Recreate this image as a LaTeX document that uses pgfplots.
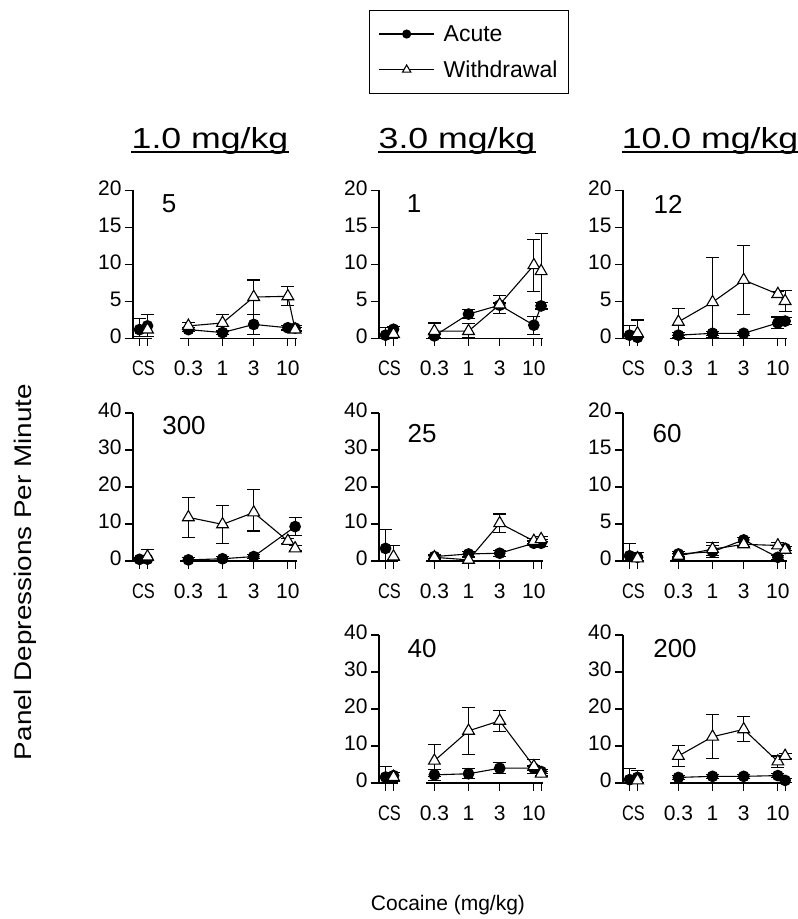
\documentclass[border=0pt]{standalone}
\usepackage{fontspec}
\setmainfont{Liberation Sans}
\usepackage{graphicx}
\usepackage{pgfplots}
\pgfplotsset{compat=1.18}
\newcommand{\tickfont}{\fontsize{21pt}{25pt}\selectfont}
\newcommand{\numfont}{\fontsize{26pt}{30pt}\selectfont}
\newcommand{\titlefont}{\fontsize{29pt}{34pt}\selectfont}
% x is log10(dose)+2 : 0.3 -> 1.477, 1 -> 2, 3 -> 2.477, 10 -> 3, 10 (second) -> 3.111
% CS points at 0.729 and 0.851
\pgfplotsset{
  panel/.style={
    scale only axis, width=164pt, height=148pt,
    xmin=0.629, xmax=3.140, ymin=0,
    axis y line*=left, axis x line*=bottom,
    x axis line style={draw=none},
    y axis line style={line width=1.2pt},
    tick align=outside, major tick length=8pt,
    tick style={black, line width=1.2pt},
    xtick={0.729,0.851,1.477,2,2.477,3,3.111},
    xticklabels={,,0.3,1,3,10,},
    extra x ticks={0.790},
    extra x tick labels={\scalebox{0.78}[1]{CS}},
    extra x tick style={major tick style={draw=none}},
    tick label style={font=\tickfont},
    xticklabel style={anchor=north, yshift=-8pt},
    typeset ticklabels with strut,
    /pgf/number format/assume math mode=true,
    clip=false,
    error bars/error bar style={line width=1.1pt, black},
    error bars/error mark options={rotate=90, mark size=6.5pt, line width=1.1pt, black},
  },
  s20/.style={ymax=20, ytick={0,5,10,15,20}},
  s40/.style={ymax=40, ytick={0,10,20,30,40}},
  acute/.style={black, line width=1.1pt, mark=*, mark size=5.3pt, mark options={fill=black, solid}},
  withd/.style={black, line width=1.1pt, mark=triangle*, mark size=6.8pt, mark options={fill=white, solid}},
  eb/.style={error bars/y dir=both, error bars/y explicit},
}
\newcommand{\xaxislines}{%
  \draw[line width=1.2pt] (axis cs:0.629,0) -- (axis cs:0.919,0);
  \draw[line width=1.2pt] (axis cs:1.349,0) -- (axis cs:3.140,0);
}
\begin{document}
\begin{tikzpicture}
\path[use as bounding box] (0,0) rectangle (798pt,919pt);

% ---------- Row 1, col 1 : 5
\begin{axis}[panel, s20, at={(133pt,580.5pt)}, anchor=south west]
\xaxislines
\addplot[acute, eb] coordinates {(1.477,1.2) += (0,0.3) -= (0,0.3) (2,0.8) += (0,0.3) -= (0,0.3) (2.477,1.9) += (0,1.4) -= (0,1.3) (3,1.45) += (0,0.3) -= (0,0.3) (3.111,1.4) += (0,0.3) -= (0,0.3)};
\addplot[withd, eb] coordinates {(1.477,1.7) += (0,0.5) -= (0,0.5) (2,2.1) += (0,1.2) -= (0,1.2) (2.477,5.6) += (0,2.3) -= (0,2.3) (3,5.7) += (0,1.3) -= (0,1.3) (3.111,1.2) += (0,0.3) -= (0,0.3)};
\addplot[acute, only marks, eb] coordinates {(0.729,1.2) += (0,1.5) -= (0,0.9)};
\addplot[acute, only marks] coordinates {(0.851,1.7)};
\addplot[withd, only marks, eb] coordinates {(0.851,1.2) += (0,2.0) -= (0,0.9)};
\end{axis}

% ---------- Row 1, col 2 : 1
\begin{axis}[panel, s20, at={(379pt,580.5pt)}, anchor=south west,
  legend style={at={(0.549,1.935)}, anchor=center, draw=black, line width=1.1pt,
    font=\fontsize{23pt}{27pt}\selectfont, inner xsep=9pt, inner ysep=13pt, row sep=14pt},
  legend cell align=left,
  legend image code/.code={\draw[mark repeat=2,mark phase=2,#1] plot coordinates {(0pt,0pt) (27.5pt,0pt) (55pt,0pt)}; \path (0pt,0pt) (62pt,0pt);}]
\xaxislines
\addlegendimage{black, line width=1.1pt, mark=*, mark size=4pt, mark options={fill=black, solid}}
\addlegendentry{Acute}
\addlegendimage{black, line width=1.1pt, mark=triangle*, mark size=4.8pt, mark options={fill=white, solid}}
\addlegendentry{Withdrawal}
\addplot[acute, eb, forget plot] coordinates {(1.477,0.35) += (0,0.3) -= (0,0.3) (2,3.3) += (0,0.6) -= (0,0.6) (2.477,4.5) += (0,0.3) -= (0,0.3) (3,1.8) += (0,1.2) -= (0,1.2) (3.111,4.4) += (0,0.5) -= (0,0.5)};
\addplot[withd, eb, forget plot] coordinates {(1.477,1.0) += (0,1.1) -= (0,0.9) (2,1.0) += (0,1.0) -= (0,0.9) (2.477,4.6) += (0,1.2) -= (0,1.2) (3,9.9) += (0,3.5) -= (0,3.5) (3.111,9.1) += (0,5.1) -= (0,5.1)};
\addplot[acute, only marks, eb, forget plot] coordinates {(0.729,0.45) += (0,1.0) -= (0,0.4)};
\addplot[acute, only marks, forget plot] coordinates {(0.851,1.25)};
\addplot[withd, only marks, eb, forget plot] coordinates {(0.851,0.6) += (0,1.0) -= (0,0.5)};
\end{axis}

% ---------- Row 1, col 3 : 12
\begin{axis}[panel, s20, at={(623pt,580.5pt)}, anchor=south west]
\xaxislines
\addplot[acute, eb] coordinates {(1.477,0.45) += (0,0.3) -= (0,0.3) (2,0.7) += (0,0.3) -= (0,0.3) (2.477,0.7) += (0,0.3) -= (0,0.3) (3,2.1) += (0,0.8) -= (0,0.8) (3.111,2.35) += (0,0.5) -= (0,0.5)};
\addplot[withd, eb] coordinates {(1.477,2.25) += (0,1.8) -= (0,1.8) (2,4.9) += (0,6.1) -= (0,4.8) (2.477,7.9) += (0,4.7) -= (0,4.7) (3,6.0) += (0,0.4) -= (0,0.4) (3.111,5.05) += (0,1.4) -= (0,1.4)};
\addplot[acute, only marks, eb] coordinates {(0.729,0.45) += (0,1.3) -= (0,0.4)};
\addplot[acute, only marks] coordinates {(0.851,0.15)};
\addplot[withd, only marks, eb] coordinates {(0.851,0.7) += (0,1.8) -= (0,0.6)};
\end{axis}

% ---------- Row 2, col 1 : 300
\begin{axis}[panel, s40, at={(133pt,358pt)}, anchor=south west]
\xaxislines
\addplot[acute, eb] coordinates {(1.477,0.3) += (0,0.6) -= (0,0.25) (2,0.6) += (0,0.6) -= (0,0.5) (2.477,1.2) += (0,0.6) -= (0,0.6) (3.111,9.3) += (0,2.4) -= (0,2.4)};
\addplot[withd, eb] coordinates {(1.477,11.8) += (0,5.4) -= (0,5.4) (2,9.9) += (0,5.1) -= (0,5.1) (2.477,13.1) += (0,6.3) -= (0,5.0) (3,5.4) += (0,0.6) -= (0,0.6) (3.111,3.4) += (0,0.7) -= (0,0.7)};
\addplot[acute, only marks, eb] coordinates {(0.729,0.45) += (0,0.6) -= (0,0.4)};
\addplot[acute, only marks] coordinates {(0.851,0.5)};
\addplot[withd, only marks, eb] coordinates {(0.851,1.2) += (0,1.8) -= (0,1.1)};
\end{axis}

% ---------- Row 2, col 2 : 25
\begin{axis}[panel, s40, at={(379pt,358pt)}, anchor=south west]
\xaxislines
\addplot[acute, eb] coordinates {(1.477,1.2) += (0,0.6) -= (0,0.6) (2,1.9) += (0,0.6) -= (0,0.6) (2.477,2.1) += (0,0.8) -= (0,0.8) (3,4.8) += (0,0.6) -= (0,0.6) (3.111,4.8) += (0,1.0) -= (0,1.0)};
\addplot[withd, eb] coordinates {(1.477,1.0) += (0,0.6) -= (0,0.6) (2,0.3) += (0,0.6) -= (0,0.25) (2.477,10.2) += (0,2.5) -= (0,2.5) (3,5.4) += (0,0.6) -= (0,0.6) (3.111,5.9) += (0,0.6) -= (0,0.6)};
\addplot[acute, only marks, eb] coordinates {(0.729,3.4) += (0,5.0) -= (0,3.3)};
\addplot[withd, only marks, eb] coordinates {(0.851,1.2) += (0,2.9) -= (0,1.1)};
\end{axis}

% ---------- Row 2, col 3 : 60
\begin{axis}[panel, s20, at={(623pt,358pt)}, anchor=south west]
\xaxislines
\addplot[acute, eb] coordinates {(1.477,0.95) += (0,0.3) -= (0,0.3) (2,1.25) += (0,0.8) -= (0,0.8) (2.477,2.85) += (0,0.3) -= (0,0.3) (3,0.5) += (0,0.3) -= (0,0.3) (3.111,1.7) += (0,0.3) -= (0,0.3)};
\addplot[withd, eb] coordinates {(1.477,0.7) += (0,0.3) -= (0,0.3) (2,1.6) += (0,0.9) -= (0,0.9) (2.477,2.25) += (0,0.3) -= (0,0.3) (3,2.1) += (0,0.4) -= (0,0.4) (3.111,1.5) += (0,0.5) -= (0,0.5)};
\addplot[acute, only marks, eb] coordinates {(0.729,0.7) += (0,1.7) -= (0,0.6)};
\addplot[acute, only marks] coordinates {(0.851,0.5)};
\addplot[withd, only marks, eb] coordinates {(0.851,0.35) += (0,0.8) -= (0,0.3)};
\end{axis}

% ---------- Row 3, col 2 : 40
\begin{axis}[panel, s40, at={(379pt,136pt)}, anchor=south west]
\xaxislines
\addplot[acute, eb] coordinates {(1.477,2.2) += (0,1.5) -= (0,1.5) (2,2.5) += (0,1.3) -= (0,1.3) (2.477,4.0) += (0,1.5) -= (0,1.5) (3,4.0) += (0,0.6) -= (0,0.6) (3.111,3.1) += (0,0.6) -= (0,0.6)};
\addplot[withd, eb] coordinates {(1.477,6.0) += (0,4.3) -= (0,4.3) (2,14.1) += (0,6.3) -= (0,6.3) (2.477,16.8) += (0,2.8) -= (0,2.8) (3,4.5) += (0,1.9) -= (0,1.9) (3.111,2.5) += (0,0.6) -= (0,0.6)};
\addplot[acute, only marks, eb] coordinates {(0.729,1.6) += (0,2.9) -= (0,1.5)};
\addplot[acute, only marks] coordinates {(0.851,2.0)};
\addplot[withd, only marks, eb] coordinates {(0.851,1.6) += (0,1.3) -= (0,1.3)};
\end{axis}

% ---------- Row 3, col 3 : 200
\begin{axis}[panel, s40, at={(623pt,136pt)}, anchor=south west]
\xaxislines
\addplot[acute, eb] coordinates {(1.477,1.5) += (0,0.6) -= (0,0.6) (2,1.8) += (0,0.6) -= (0,0.6) (2.477,1.8) += (0,0.6) -= (0,0.6) (3,2.0) += (0,0.6) -= (0,0.6) (3.111,0.7) += (0,0.6) -= (0,0.6)};
\addplot[withd, eb] coordinates {(1.477,7.3) += (0,2.8) -= (0,2.8) (2,12.5) += (0,6.0) -= (0,6.0) (2.477,14.5) += (0,3.4) -= (0,3.4) (3,5.8) += (0,1.5) -= (0,1.5) (3.111,7.3) += (0,0.6) -= (0,0.6)};
\addplot[acute, only marks, eb] coordinates {(0.729,0.9) += (0,2.9) -= (0,0.8)};
\addplot[acute, only marks] coordinates {(0.851,1.5)};
\addplot[withd, only marks, eb] coordinates {(0.851,0.7) += (0,2.7) -= (0,0.6)};
\end{axis}

% panel numbers
\node[font=\numfont, inner sep=0] at (169pt,715pt) {5};
\node[font=\numfont, inner sep=0] at (414pt,715pt) {1};
\node[font=\numfont, inner sep=0] at (668pt,715pt) {12};
\node[font=\numfont, inner sep=0] at (184pt,493pt) {300};
\node[font=\numfont, inner sep=0] at (422pt,485pt) {25};
\node[font=\numfont, inner sep=0] at (667pt,485pt) {60};
\node[font=\numfont, inner sep=0] at (422pt,270pt) {40};
\node[font=\numfont, inner sep=0] at (675pt,270pt) {200};

% column titles
\node[font=\titlefont, inner sep=0, anchor=base] (t1) at (210pt,770pt) {\scalebox{1.23}[1]{1.0 mg/kg}};
\node[font=\titlefont, inner sep=0, anchor=base] (t2) at (457pt,770pt) {\scalebox{1.23}[1]{3.0 mg/kg}};
\node[font=\titlefont, inner sep=0, anchor=base] (t3) at (710pt,770pt) {\scalebox{1.23}[1]{10.0 mg/kg}};
\foreach \t in {t1,t2,t3} {
  \draw[line width=2pt] ([yshift=-3.5pt]\t.base west) -- ([yshift=-3.5pt]\t.base east);
}

% axis labels
\node[rotate=90, font=\fontsize{24pt}{28pt}\selectfont] at (25pt,347pt) {\scalebox{1.16}[1]{Panel Depressions Per Minute}};
\node[font=\fontsize{21pt}{25pt}\selectfont] at (448pt,14pt) {Cocaine (mg/kg)};
\end{tikzpicture}
\end{document}
